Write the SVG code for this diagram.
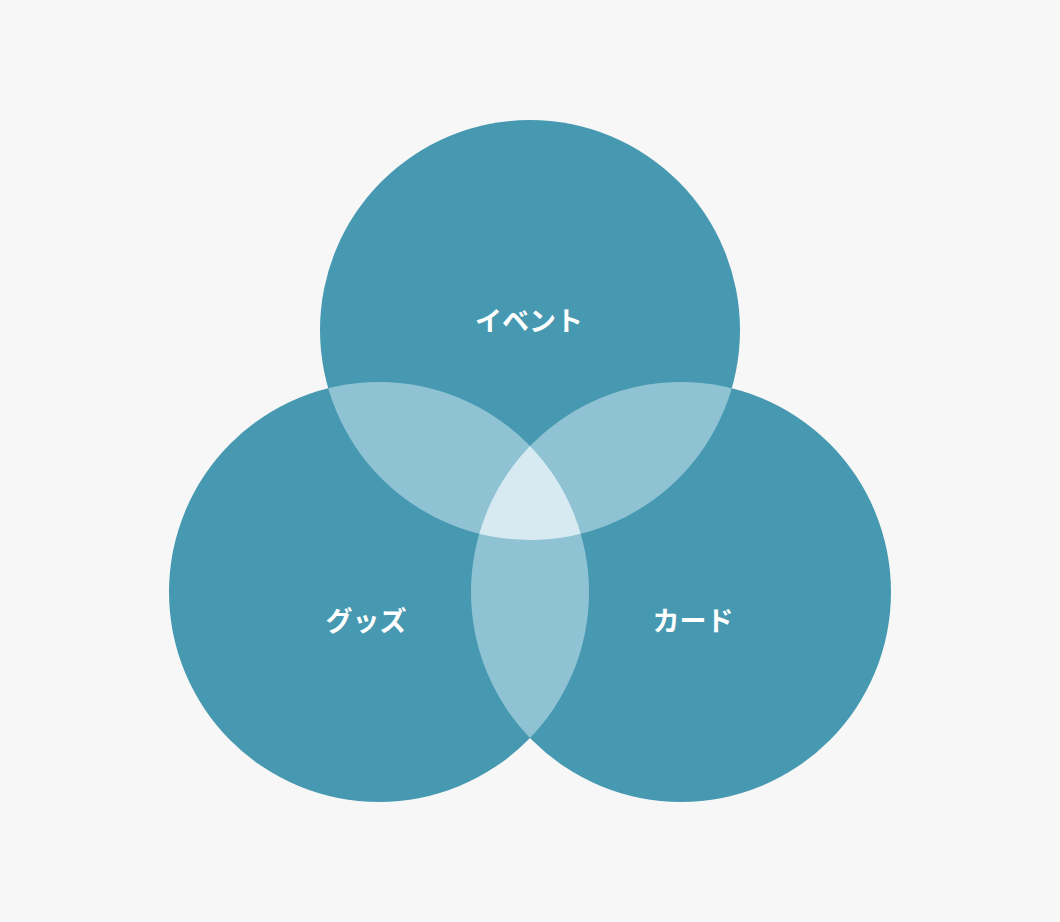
<svg xmlns="http://www.w3.org/2000/svg" width="1060" height="922" viewBox="0 0 1060 922">
<style>
.c{fill:#4699b1}
.p{fill:#8fc3d3}
.t{fill:#d8eaf1}
.lbl{font-family:"Noto Sans CJK JP","Noto Sans",sans-serif;font-size:27px;font-weight:700;fill:#ffffff;text-anchor:middle}
</style>
<defs>
<clipPath id="cA"><circle cx="530" cy="330" r="210"/></clipPath>
<clipPath id="cB"><circle cx="379" cy="592" r="210"/></clipPath>
<clipPath id="cC"><circle cx="681" cy="592" r="210"/></clipPath>
</defs>
<rect width="1060" height="922" fill="#f7f7f7"/>
<g id="circles">
<g id="event"><circle class="c" cx="530" cy="330" r="210"/></g>
<g id="goods"><circle class="c" cx="379" cy="592" r="210"/></g>
<g id="card"><circle class="c" cx="681" cy="592" r="210"/></g>
</g>
<g id="overlaps">
<g clip-path="url(#cA)"><circle class="p" cx="379" cy="592" r="210"/></g>
<g clip-path="url(#cA)"><circle class="p" cx="681" cy="592" r="210"/></g>
<g clip-path="url(#cB)"><circle class="p" cx="681" cy="592" r="210"/></g>
<g clip-path="url(#cA)"><g clip-path="url(#cB)"><circle class="t" cx="681" cy="592" r="210"/></g></g>
</g>
<g id="labels">
<text class="lbl" x="529" y="331">イベント</text>
<text class="lbl" x="366" y="631">グッズ</text>
<text class="lbl" x="693" y="631">カード</text>
</g>
</svg>
